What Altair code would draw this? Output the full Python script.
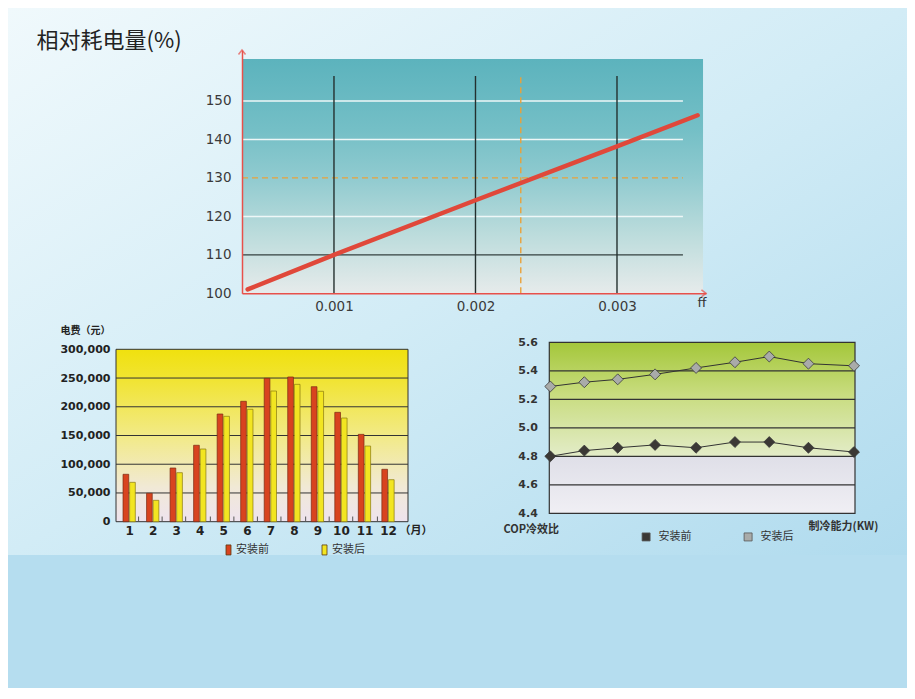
import altair as alt
import pandas as pd

# ---------------- values ----------------
# Top chart: relative power consumption (%) against fouling factor ff
ff_points = [0.00039, 0.001, 0.002, 0.003, 0.00357]
power_pct = [101.0, 110.0, 124.2, 138.2, 146.3]
top_y_ticks = [100, 110, 120, 130, 140, 150]
top_x_ticks = [0.001, 0.002, 0.003]
white_grid_y = [120, 140, 150]
dark_grid_y = [110]
ref_y = [130]
ref_x = [0.00232]
vert_x = [0.001, 0.002, 0.003]

# Bottom-left chart: electricity cost per month (yuan)
months = list(range(1, 13))
cost_before = [82500, 49400, 93400, 133000, 187400, 209500, 249500, 251800, 234900, 190300, 152000, 91200]
cost_after = [68500, 37200, 85300, 126500, 183400, 195600, 227400, 239000, 226900, 180400, 131700, 73100]
bar_y_ticks = [0, 50000, 100000, 150000, 200000, 250000, 300000]
bar_grid_y = [50000, 100000, 150000, 200000, 250000]
month_sep = [1.4, 2.4, 3.4, 4.45, 5.45, 6.45, 7.45, 8.5, 9.5, 10.5, 11.55]

# Bottom-right chart: COP against cooling capacity
capacity_kw = [100, 111.2, 122.2, 134.5, 148, 160.8, 172.1, 185, 200]
cop_before = [4.80, 4.84, 4.86, 4.88, 4.86, 4.90, 4.90, 4.86, 4.83]
cop_after = [5.29, 5.32, 5.34, 5.375, 5.42, 5.46, 5.50, 5.45, 5.435]
cop_ticks = [4.4, 4.6, 4.8, 5.0, 5.2, 5.4, 5.6]
cop_grid = [4.6, 4.8, 5.0, 5.2, 5.4]

series_names = ["安装前", "安装后"]

# ---------------- layout helpers ----------------
W, H = 899, 680
NUM_FONT = "DejaVu Sans"
CJK_FONT = "Noto Sans CJK SC"


def grad(stops, x2=0, y2=1):
    return alt.LinearGradient(
        gradient="linear",
        stops=[alt.GradientStop(color=c, offset=o) for o, c in stops],
        x1=0, y1=0, x2=x2, y2=y2,
    )


layers = []

# ---------------- page background ----------------
layers.append(alt.Chart(pd.DataFrame({"k": [0]})).mark_rect(
    fill=grad([(0, "#f0f9fc"), (0.5, "#d2ecf6"), (1, "#b0dbee")], x2=1, y2=1)
).encode(x=alt.value(0), x2=alt.value(W), y=alt.value(0), y2=alt.value(547)))

# ---------------- top chart ----------------
tx = alt.Scale(domain=[0.00035, 0.003629], range=[234, 698], nice=False, zero=False)
ty = alt.Scale(domain=[100, 163.26], range=[285.3, 42], nice=False, zero=False)
RED_AXIS = "#e8504a"

top_y_axis = alt.Axis(
    orient="left", offset=-234, values=top_y_ticks, labelPadding=11, ticks=False, grid=False,
    domainColor=RED_AXIS, domainWidth=1.5, labelFont=NUM_FONT, labelFontSize=13.5,
    labelColor="#3a3a3a", title="相对耗电量(%)", titleAngle=0, titleAlign="left",
    titleBaseline="middle", titleX=-206, titleY=32, titleFont=CJK_FONT, titleFontSize=22,
    titleFontWeight="normal", titleColor="#222222", zindex=2,
)
top_x_axis = alt.Axis(
    orient="bottom", offset=285.3 - H, values=top_x_ticks, format=".3f", labelPadding=6,
    ticks=False, grid=False, domainColor=RED_AXIS, domainWidth=1.5, labelFont=NUM_FONT,
    labelFontSize=13.5, labelColor="#3a3a3a", title="ff", titleX=689, titleY=9,
    titleAlign="left", titleBaseline="middle", titleFont=NUM_FONT, titleFontSize=13,
    titleFontWeight="normal", titleColor="#333333", zindex=2,
)

layers.append(alt.Chart(pd.DataFrame({"x": [0.00035], "x2": [0.003608], "y": [100], "y2": [160.9]})).mark_rect(
    fill=grad([(0, "#5cb3bd"), (0.3, "#74bfc6"), (0.5, "#8fcacf"), (0.75, "#bcdcdc"), (1, "#e6ebeb")])
).encode(
    x=alt.X("x:Q", scale=tx, axis=top_x_axis), x2="x2",
    y=alt.Y("y:Q", scale=ty, axis=top_y_axis), y2="y2",
))


def hlines(vals, xs, ys, x_from, x_to, color, width, dash=None):
    df = pd.DataFrame({"y": vals, "x": [x_from] * len(vals), "x2": [x_to] * len(vals)})
    kw = dict(color=color, strokeWidth=width)
    if dash:
        kw["strokeDash"] = dash
    return alt.Chart(df).mark_rule(**kw).encode(
        x=alt.X("x:Q", scale=xs, axis=None), x2="x2", y=alt.Y("y:Q", scale=ys, axis=None)
    )


def vlines(vals, xs, ys, y_from, y_to, color, width, dash=None):
    df = pd.DataFrame({"x": vals, "y": [y_from] * len(vals), "y2": [y_to] * len(vals)})
    kw = dict(color=color, strokeWidth=width)
    if dash:
        kw["strokeDash"] = dash
    return alt.Chart(df).mark_rule(**kw).encode(
        x=alt.X("x:Q", scale=xs, axis=None), y=alt.Y("y:Q", scale=ys, axis=None), y2="y2"
    )


layers += [
    hlines(white_grid_y, tx, ty, 0.00035, 0.003466, "#eef7f7", 1.5),
    hlines(dark_grid_y, tx, ty, 0.00035, 0.003466, "#34403f", 1.3),
    hlines(ref_y, tx, ty, 0.00035, 0.003466, "#e9a23a", 1.4, [6, 4]),
    vlines(vert_x, tx, ty, 100, 156.5, "#24302f", 1.4),
    vlines(ref_x, tx, ty, 100, 157.2, "#e9a23a", 1.4, [6, 4]),
]

layers.append(alt.Chart(pd.DataFrame({"ff": ff_points, "pct": power_pct})).mark_line(
    color="#e0483a", strokeWidth=4.5, strokeCap="round"
).encode(x=alt.X("ff:Q", scale=tx, axis=None), y=alt.Y("pct:Q", scale=ty, axis=None)))

layers.append(alt.Chart(pd.DataFrame({"x": [0.00035], "y": [163.26]})).mark_point(
    shape="M-1,1.3L0,0L1,1.3", size=49, filled=False, stroke=RED_AXIS, strokeWidth=1.5
).encode(x=alt.X("x:Q", scale=tx, axis=None), y=alt.Y("y:Q", scale=ty, axis=None)))
layers.append(alt.Chart(pd.DataFrame({"x": [0.003629], "y": [100]})).mark_point(
    shape="M-1.3,-1L0,0L-1.3,1", size=49, filled=False, stroke=RED_AXIS, strokeWidth=1.5
).encode(x=alt.X("x:Q", scale=tx, axis=None), y=alt.Y("y:Q", scale=ty, axis=None)))

# ---------------- bar chart ----------------
bx = alt.Scale(domain=[0.44, 12.85], range=[108, 400], nice=False, zero=False, padding=0)
by = alt.Scale(domain=[0, 300000], range=[513.7, 341.3], nice=False)

bar_y_axis = alt.Axis(
    orient="left", offset=-108, values=bar_y_ticks, format=",.0f", labelPadding=6, ticks=False,
    grid=False, domain=False, labelFont=NUM_FONT, labelFontSize=11, labelFontWeight="bold",
    labelColor="#222222", title="电费（元）", titleAngle=0, titleAlign="left",
    titleBaseline="middle", titleX=-56, titleY=322, titleFont=CJK_FONT, titleFontSize=10,
    titleFontWeight="bold", titleColor="#222222", zindex=2,
)
bar_x_axis = alt.Axis(
    orient="bottom", offset=513.7 - H, values=months, format="d", labelPadding=4, ticks=False,
    grid=False, domain=False, labelFont=NUM_FONT, labelFontSize=12, labelFontWeight="bold",
    labelColor="#222222", title="（月）", titleX=391, titleY=9, titleAlign="left",
    titleBaseline="middle", titleFont=CJK_FONT, titleFontSize=11, titleFontWeight="bold",
    titleColor="#222222", zindex=2,
)

layers.append(alt.Chart(pd.DataFrame({"x": [0.44], "x2": [12.85], "y": [0], "y2": [300000]})).mark_rect(
    fill=grad([(0, "#f0e10e"), (0.18, "#f1e433"), (0.5, "#f2ea86"), (0.8, "#f1e9d6"), (1, "#eee3ee")]),
    stroke="#333333", strokeWidth=1,
).encode(
    x=alt.X("x:Q", scale=bx, axis=bar_x_axis), x2="x2",
    y=alt.Y("y:Q", scale=by, axis=bar_y_axis), y2="y2",
))
layers.append(hlines(bar_grid_y, bx, by, 0.44, 12.85, "#333333", 1))
layers.append(vlines(month_sep, bx, by, 0, 9000, "#555555", 1))

bar_df = pd.DataFrame({
    "month": months * 2,
    "cost": cost_before + cost_after,
    "bar_series": [series_names[0]] * 12 + [series_names[1]] * 12,
})
bar_color = alt.Scale(domain=series_names, range=["#d8431f", "#f2e521"])
bar_legend = alt.Legend(
    orient="none", legendX=215, legendY=536, direction="horizontal", title=None,
    symbolType="M-0.5,-1H0.5V1H-0.5Z", symbolSize=100, symbolStrokeColor="#5a3a10",
    symbolStrokeWidth=0.8, labelFont=CJK_FONT, labelFontSize=11, labelColor="#333333",
    labelOffset=2, columnPadding=50, padding=0,
)
layers.append(alt.Chart(bar_df[bar_df.bar_series == series_names[0]]).mark_bar(
    orient="vertical", width=5.7, xOffset=-3.3, stroke="#7a2a12", strokeWidth=0.7
).encode(
    x=alt.X("month:Q", scale=bx, axis=None),
    y=alt.Y("cost:Q", scale=by, axis=None, stack=None),
    color=alt.Color("bar_series:N", scale=bar_color, legend=bar_legend),
))
layers.append(alt.Chart(bar_df[bar_df.bar_series == series_names[1]]).mark_bar(
    orient="vertical", width=5.7, xOffset=3.3, stroke="#8a7a10", strokeWidth=0.7
).encode(
    x=alt.X("month:Q", scale=bx, axis=None),
    y=alt.Y("cost:Q", scale=by, axis=None, stack=None),
    color=alt.Color("bar_series:N", scale=bar_color, legend=None),
))

# ---------------- COP line chart ----------------
lx = alt.Scale(domain=[99.67, 200.33], range=[541.3, 847], nice=False, zero=False)
ly = alt.Scale(domain=[4.4, 5.6], range=[505.3, 334.3], nice=False, zero=False)

ln_y_axis = alt.Axis(
    orient="left", offset=-541.3, values=cop_ticks, format=".1f", labelPadding=12, ticks=False,
    grid=False, domain=False, labelFont=NUM_FONT, labelFontSize=11, labelFontWeight="bold",
    labelColor="#333333", title="COP冷效比", titleAngle=0, titleAlign="left",
    titleBaseline="middle", titleX=-46.3, titleY=521, titleFont=CJK_FONT, titleFontSize=11,
    titleFontWeight="bold", titleColor="#333333", zindex=2,
)
ln_x_axis = alt.Axis(
    orient="bottom", offset=505.3 - H, labels=False, ticks=False, grid=False, domain=False,
    title="制冷能力(KW)", titleX=800, titleY=12.7, titleAlign="left", titleBaseline="middle",
    titleFont=CJK_FONT, titleFontSize=11, titleFontWeight="bold", titleColor="#333333", zindex=2,
)

layers.append(alt.Chart(pd.DataFrame({"x": [99.67], "x2": [200.33], "y": [4.8], "y2": [5.6]})).mark_rect(
    fill=grad([(0, "#a4c73a"), (0.45, "#c8dc7e"), (1, "#e3ecc8")])
).encode(
    x=alt.X("x:Q", scale=lx, axis=ln_x_axis), x2="x2",
    y=alt.Y("y:Q", scale=ly, axis=ln_y_axis), y2="y2",
))
layers.append(alt.Chart(pd.DataFrame({"x": [99.67], "x2": [200.33], "y": [4.4], "y2": [4.8]})).mark_rect(
    fill=grad([(0, "#dfdfe8"), (1, "#f0eff4")])
).encode(x=alt.X("x:Q", scale=lx, axis=None), x2="x2", y=alt.Y("y:Q", scale=ly, axis=None), y2="y2"))
layers.append(hlines(cop_grid, lx, ly, 99.67, 200.33, "#333333", 1.2))
layers.append(alt.Chart(pd.DataFrame({"x": [99.67], "x2": [200.33], "y": [4.4], "y2": [5.6]})).mark_rect(
    fillOpacity=0, stroke="#333333", strokeWidth=1.2
).encode(x=alt.X("x:Q", scale=lx, axis=None), x2="x2", y=alt.Y("y:Q", scale=ly, axis=None), y2="y2"))

cop_df = pd.DataFrame({
    "kw": capacity_kw * 2,
    "cop": cop_before + cop_after,
    "cop_series": [series_names[0]] * 9 + [series_names[1]] * 9,
})
layers.append(alt.Chart(cop_df).mark_line(color="#333333", strokeWidth=1).encode(
    x=alt.X("kw:Q", scale=lx, axis=None), y=alt.Y("cop:Q", scale=ly, axis=None), detail="cop_series:N"
))
ln_fill = alt.Scale(domain=series_names, range=["#3b3835", "#a9aba9"])
ln_legend = alt.Legend(
    orient="none", legendX=632.6, legendY=523, direction="horizontal", title=None,
    symbolType="square", symbolSize=64, symbolStrokeColor="#555555", symbolStrokeWidth=0.8,
    labelFont=CJK_FONT, labelFontSize=11, labelColor="#333333", labelOffset=7,
    columnPadding=50, padding=0,
)
layers.append(alt.Chart(cop_df).mark_point(
    shape="diamond", filled=True, size=120, stroke="#3a3a3a", strokeWidth=0.8, opacity=1
).encode(
    x=alt.X("kw:Q", scale=lx, axis=None), y=alt.Y("cop:Q", scale=ly, axis=None),
    fill=alt.Fill("cop_series:N", scale=ln_fill, legend=ln_legend),
))

# ---------------- assemble ----------------
chart = alt.layer(*layers).resolve_scale(
    x="independent", y="independent", color="independent", fill="independent"
).properties(
    width=W, height=H, autosize=alt.AutoSizeParams(type="none"), padding=0,
    background="#b5ddef",
).configure_view(strokeWidth=0)

chart.save("out.html", embed_options={"renderer": "svg", "actions": False})
